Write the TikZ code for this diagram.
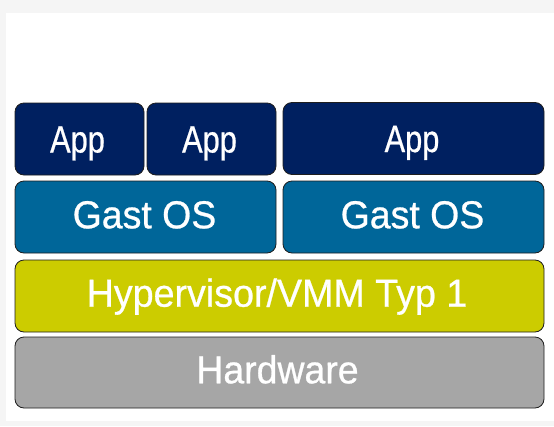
\documentclass[tikz,border=0pt]{standalone}
\usepackage{fontspec}
\setmainfont{Liberation Sans}
\newfontfamily\lblfont{Liberation Sans}[FakeBold=0.7]
\usepackage{graphicx}
\definecolor{bgout}{HTML}{F5F5F5}
\definecolor{appc}{HTML}{002060}
\definecolor{osc}{HTML}{006699}
\definecolor{hypc}{HTML}{CCCC00}
\definecolor{hwc}{HTML}{A6A6A6}
\definecolor{edgec}{HTML}{1E1E1E}
\tikzset{
  layer/.style={draw=edgec, line width=0.8pt, rounded corners=9pt, inner sep=0pt, outer sep=0pt},
  lbl/.style={text=white, inner sep=0pt, anchor=base, font=\lblfont\fontsize{39}{40}\selectfont},
  applbl/.style={text=white, inner sep=0pt, anchor=base, font=\lblfont\fontsize{38}{40}\selectfont},
}
\begin{document}
\begin{tikzpicture}[x=1pt,y=-1pt]
\fill[bgout] (0,0) rectangle (554,426);
\fill[white] (6,13) rectangle (554,421);
\useasboundingbox (0,0) rectangle (554,426);
% App row
\node[layer, fill=appc, minimum width=129pt, minimum height=72pt] (app1) at (79.5,139) {};
\node[layer, fill=appc, minimum width=129pt, minimum height=72pt] (app2) at (211.5,139) {};
\node[layer, fill=appc, minimum width=261pt, minimum height=72pt] (app3) at (413.5,138.5) {};
% Guest OS row
\node[layer, fill=osc, minimum width=261pt, minimum height=72pt] (os1) at (145.5,217) {};
\node[layer, fill=osc, minimum width=261pt, minimum height=72pt] (os2) at (413.5,217) {};
% Hypervisor
\node[layer, fill=hypc, minimum width=529pt, minimum height=72pt] (hyp) at (279.5,296) {};
% Hardware
\node[layer, fill=hwc, minimum width=529pt, minimum height=71pt] (hw) at (279.5,372.5) {};
% labels
\node[applbl] (t1) at (77.5,152.5) {\scalebox{0.81}[1]{App}};
\node[applbl] (t2) at (209.5,152.5) {\scalebox{0.81}[1]{App}};
\node[applbl] (t3) at (412,152) {\scalebox{0.81}[1]{App}};
\node[lbl] (t4) at (144.5,228.3) {\scalebox{0.96}[1]{Gast OS}};
\node[lbl] (t5) at (412.5,228.3) {\scalebox{0.96}[1]{Gast OS}};
\node[lbl] (t6) at (277,306.7) {\scalebox{0.965}[1]{Hypervisor/VMM Typ 1}};
\node[lbl] (t7) at (277.5,383.3) {\scalebox{0.96}[1]{Hardware}};
\end{tikzpicture}
\end{document}
